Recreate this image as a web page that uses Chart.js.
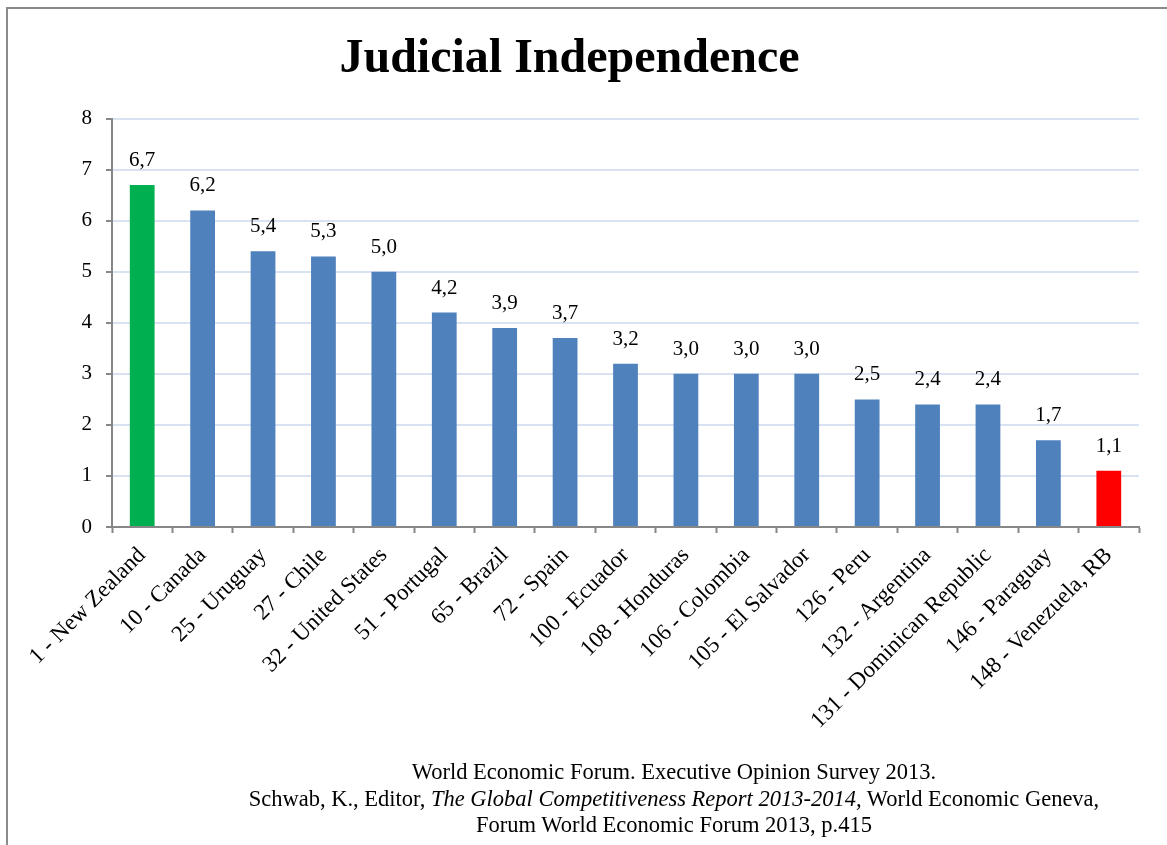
<!DOCTYPE html>
<html>
<head>
<meta charset="utf-8">
<script src="https://cdn.jsdelivr.net/npm/chart.js@4/dist/chart.umd.min.js"></script>
<style>
  body { margin: 0; background: #fff; }
  #wrap { position: relative; width: 1167px; height: 845px; overflow: hidden; }
  #frame { position: absolute; left: 6px; top: 7px; width: 1200px; height: 900px;
           border-left: 2px solid #8a8a8a; border-top: 2px solid #8a8a8a; }
  #source { position: absolute; left: 174px; width: 1000px; top: 759px; text-align: center;
            font-family: "Liberation Serif", serif; font-size: 22.5px; line-height: 26.5px; color: #000;
            white-space: nowrap; }
</style>
</head>
<body>
<div id="wrap">
  <div id="frame"></div>
  <canvas id="chart" width="1167" height="845"></canvas>
  <div id="source">
    World Economic Forum. Executive Opinion Survey 2013.<br>
    Schwab, K., Editor, <i>The Global Competitiveness Report 2013-2014,</i> World Economic Geneva,<br>
    Forum World Economic Forum 2013, p.415
  </div>
</div>
<script>
// datos
const countries = [
  "1 - New Zealand", "10 - Canada", "25 - Uruguay", "27 - Chile", "32 - United States",
  "51 - Portugal", "65 - Brazil", "72 - Spain", "100 - Ecuador", "108 - Honduras",
  "106 - Colombia", "105 - El Salvador", "126 - Peru", "132 - Argentina",
  "131 - Dominican Republic", "146 - Paraguay", "148 - Venezuela, RB"
];
const scores = [6.7, 6.2, 5.4, 5.3, 5.0, 4.2, 3.9, 3.7, 3.2, 3.0, 3.0, 3.0, 2.5, 2.4, 2.4, 1.7, 1.1];
const yTicks = [0, 1, 2, 3, 4, 5, 6, 7, 8];

const green = "#00b050";
const blue = "#4f81bd";
const red = "#ff0000";
const barColors = scores.map((_, i) => i === 0 ? green : (i === scores.length - 1 ? red : blue));

const serif = "'Liberation Serif', serif";
const axisGray = "#878787";

// etiquetas de valor sobre cada barra
const valueLabels = {
  id: "valueLabels",
  afterDatasetsDraw(chart) {
    const ctx = chart.ctx;
    const meta = chart.getDatasetMeta(0);
    ctx.save();
    ctx.font = "21px " + serif;
    ctx.fillStyle = "#000";
    ctx.textAlign = "center";
    ctx.textBaseline = "alphabetic";
    meta.data.forEach((bar, i) => {
      ctx.fillText(scores[i].toFixed(1).replace(".", ","), bar.x, bar.y - 19);
    });
    ctx.restore();
  }
};

const config = {
  type: "bar",
  data: {
    labels: countries,
    datasets: [{
      data: scores,
      backgroundColor: barColors,
      borderWidth: 0,
      categoryPercentage: 1,
      barPercentage: 0.41
    }]
  },
  options: {
    responsive: false,
    animation: false,
    layout: { padding: { left: 0, right: 28, top: 0, bottom: 0 } },
    plugins: {
      legend: { display: false },
      tooltip: { enabled: false },
      title: {
        display: true,
        text: "Judicial Independence",
        color: "#000",
        font: { family: serif, size: 48, weight: "bold", lineHeight: 1.2 },
        padding: { top: 31, bottom: 30 }
      }
    },
    scales: {
      x: {
        afterFit: (scale) => { scale.height = 318; },
        grid: {
          offset: true,
          drawOnChartArea: false,
          drawTicks: true,
          tickLength: 6,
          tickColor: axisGray,
          tickWidth: 2
        },
        border: { color: axisGray, width: 2 },
        ticks: {
          autoSkip: false,
          minRotation: 45,
          maxRotation: 45,
          padding: 9,
          color: "#000",
          font: { family: serif, size: 23 }
        }
      },
      y: {
        min: 0,
        max: 8,
        afterFit: (scale) => { scale.width = 112; },
        afterBuildTicks: (scale) => { scale.ticks = yTicks.map((v) => ({ value: v })); },
        grid: {
          color: "#d9e2f3",
          lineWidth: 2,
          drawTicks: true,
          tickLength: 6,
          tickColor: axisGray,
          tickWidth: 2
        },
        border: { color: axisGray, width: 2 },
        ticks: {
          padding: 14,
          color: "#000",
          font: { family: serif, size: 21 }
        }
      }
    }
  },
  plugins: [valueLabels]
};

new Chart(document.getElementById("chart"), config);
</script>
</body>
</html>
